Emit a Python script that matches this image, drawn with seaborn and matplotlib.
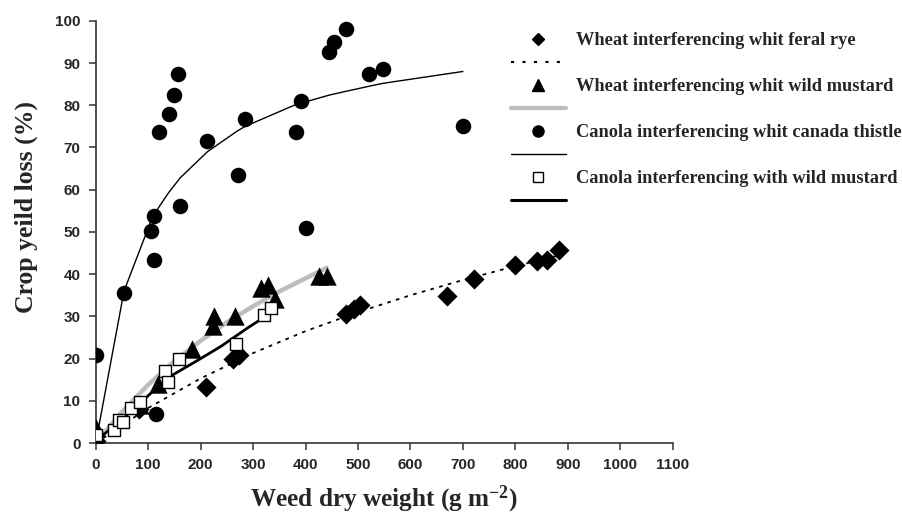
import numpy as np
import pandas as pd
import seaborn as sns
import matplotlib.pyplot as plt
from matplotlib.lines import Line2D

# values
rye_x = [0, 82, 210, 262, 273, 478, 492, 504, 669, 721, 800, 841, 860, 884]
rye_y = [0.5, 8, 13.3, 19.8, 20.8, 30.5, 31.7, 32.7, 34.8, 38.9, 42.2, 43, 43.3, 45.8]
rye_fit_x = [0, 100, 200, 300, 400, 500, 600, 700, 800, 885]
rye_fit_y = [0, 8.3, 15.3, 21.3, 26.5, 31, 35, 38.6, 41.9, 44.5]

wmus_x = [0, 85, 118, 183, 223, 225, 266, 316, 328, 342, 426, 440]
wmus_y = [3.5, 9, 14, 22.3, 27.8, 30, 30, 36.7, 37.5, 34, 39.5, 39.5]
wmus_fit_x = [0, 50, 100, 150, 200, 250, 300, 350, 400, 440]
wmus_fit_y = [0, 7.4, 13.8, 19.4, 24.2, 28.6, 32.4, 35.9, 39, 41.5]

thistle_x = [0, 54, 111, 105, 111, 161, 120, 139, 149, 156, 213, 271, 285,
             382, 391, 400, 445, 454, 477, 521, 548, 700, 115]
thistle_y = [20.8, 35.5, 43.4, 50.3, 53.8, 56.2, 73.6, 78, 82.5, 87.3, 71.5, 63.4, 76.7,
             73.6, 81, 51, 92.7, 94.9, 98, 87.3, 88.6, 75.2, 6.8]
thistle_fit_x = [0, 54, 105, 120, 139, 161, 213, 271, 285, 382, 400, 445, 477, 521, 548, 700]
thistle_fit_y = [0, 36, 52.5, 55.8, 59.3, 62.8, 69, 74, 75, 80.2, 80.8, 82.4, 83.3, 84.5, 85.2, 88]

cmus_x = [0, 34, 45, 52, 67, 84, 133, 137, 159, 267, 320, 334]
cmus_y = [1.8, 3, 5.5, 5, 8.3, 9.8, 17, 14.5, 20, 23.5, 30.3, 32]
cmus_fit_x = [0, 40, 85, 120, 145, 200, 240, 290, 330]
cmus_fit_y = [0.5, 4.5, 9.5, 13.5, 16, 20, 23, 27.3, 30.5]

labels = ['Wheat interferencing whit feral rye',
          'Wheat interferencing whit wild mustard',
          'Canola interferencing whit canada thistle',
          'Canola interferencing with wild mustard']

sns.set_style('ticks')
plt.rcParams['font.family'] = ['Liberation Sans', 'DejaVu Sans']
plt.rcParams['font.weight'] = 'bold'
plt.rcParams['mathtext.fontset'] = 'custom'
plt.rcParams['mathtext.rm'] = 'Liberation Serif:bold'
plt.rcParams['mathtext.bf'] = 'Liberation Serif:bold'
plt.rcParams['mathtext.it'] = 'Liberation Serif:bold'

fig, ax = plt.subplots(figsize=(9.03, 5.2), dpi=100)
fig.subplots_adjust(left=0.106, right=0.745, top=0.96, bottom=0.148)

# fitted curves
sns.lineplot(x=rye_fit_x, y=rye_fit_y, ax=ax, color='black', lw=1.3,
             dashes=False, linestyle=(0, (2, 3)), sort=False, estimator=None, zorder=2)
sns.lineplot(x=wmus_fit_x, y=wmus_fit_y, ax=ax, color='#bdbdbd', lw=3.2,
             sort=False, estimator=None, zorder=2)
sns.lineplot(x=thistle_fit_x, y=thistle_fit_y, ax=ax, color='black', lw=1.0,
             sort=False, estimator=None, zorder=2)
sns.lineplot(x=cmus_fit_x, y=cmus_fit_y, ax=ax, color='black', lw=2.0,
             sort=False, estimator=None, zorder=2)

# observations
sns.scatterplot(x=rye_x, y=rye_y, ax=ax, marker='D', s=105, color='black',
                edgecolor='black', linewidth=0, zorder=3)
sns.scatterplot(x=wmus_x, y=wmus_y, ax=ax, marker='^', s=175, color='black',
                edgecolor='black', linewidth=0, zorder=4)
sns.scatterplot(x=thistle_x, y=thistle_y, ax=ax, marker='o', s=125, color='black',
                edgecolor='black', linewidth=0, zorder=5)
sns.scatterplot(x=cmus_x, y=cmus_y, ax=ax, marker='s', s=75, color='white',
                edgecolor='black', linewidth=1.0, zorder=6)

ax.set_xlim(0, 1100)
ax.set_ylim(0, 100)
ax.set_xticks(np.arange(0, 1101, 100))
ax.set_yticks(np.arange(0, 101, 10))
sns.despine(ax=ax)
for sp in ['left', 'bottom']:
    ax.spines[sp].set_color('#333333')
    ax.spines[sp].set_linewidth(1.2)
ax.tick_params(direction='out', length=5, width=1.1, color='#333333',
               labelsize=11, pad=6)
for t in ax.get_xticklabels() + ax.get_yticklabels():
    t.set_fontweight('bold')

ax.set_xlabel(r'Weed dry weight (g m$^{-2}$)', family='Liberation Serif',
              fontweight='bold', fontsize=18.2, labelpad=8)
ax.set_ylabel('Crop yeild loss (%)', family='Liberation Serif',
              fontweight='bold', fontsize=18.5, labelpad=12)
ax.yaxis.set_label_coords(-0.10, 0.56)

handles = [
    Line2D([], [], marker='D', color='black', ls='none', markersize=6),
    Line2D([], [], color='black', lw=1.5, ls=(0, (1.5, 4))),
    Line2D([], [], marker='^', color='black', ls='none', markersize=8),
    Line2D([], [], color='#bdbdbd', lw=3),
    Line2D([], [], marker='o', color='black', ls='none', markersize=8),
    Line2D([], [], color='black', lw=1.0),
    Line2D([], [], marker='s', color='white', markeredgecolor='black', ls='none',
           markersize=7, markeredgewidth=1.0),
    Line2D([], [], color='black', lw=2.2),
]
leg_labels = [labels[0], ' ', labels[1], ' ', labels[2], ' ', labels[3], ' ']
ax.legend(handles, leg_labels, loc='upper left',
          bbox_to_anchor=(511 / 903, 1 - 32 / 520), bbox_transform=fig.transFigure,
          frameon=False, borderpad=0, borderaxespad=0, handlelength=3.0,
          handletextpad=0.55, labelspacing=0.33,
          prop=dict(family='Liberation Serif', weight='bold', size=13.2))

fig.savefig('out.png', dpi=100)
